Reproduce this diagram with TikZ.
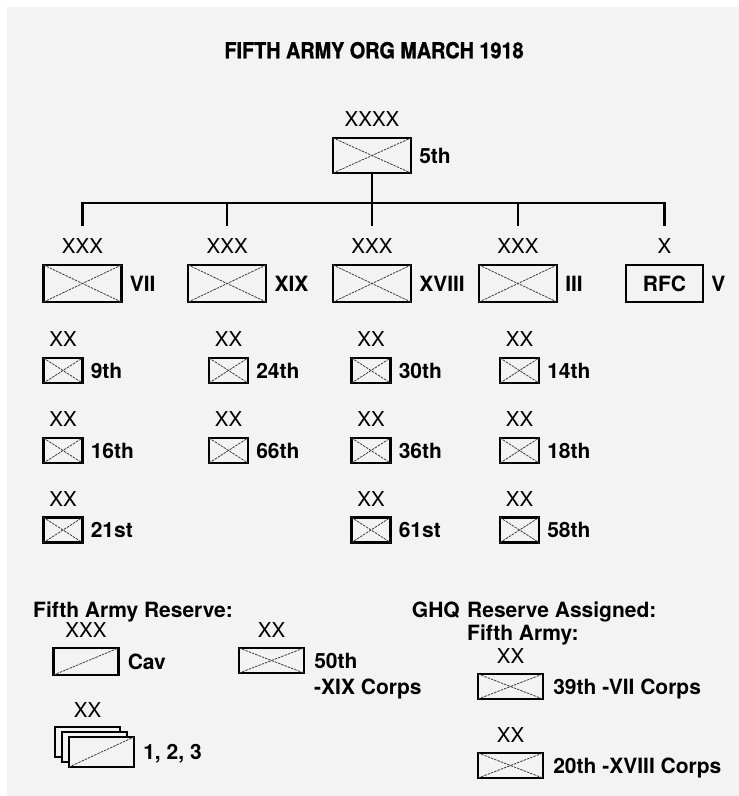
\documentclass[tikz,border=0pt]{standalone}
\usepackage{fontspec}
\setmainfont{TeX Gyre Heros}
\newfontfamily\titlefont{TeX Gyre Heros}[BoldFeatures={FakeBold=1.2, FakeStretch=0.9}]
\usetikzlibrary{positioning}

\definecolor{paper}{RGB}{243,243,243}
\definecolor{hatch}{RGB}{60,60,60}

\tikzset{
  unitbox/.style={draw=black, line width=2.2pt, fill=paper, inner sep=0pt},
  armybox/.style={unitbox, minimum width=78pt, minimum height=35pt},
  corpsbox/.style={unitbox, minimum width=78pt, minimum height=37pt},
  divbox/.style={unitbox, minimum width=39pt, minimum height=25pt},
  resbox/.style={unitbox, minimum width=65pt, minimum height=26pt},
  xlines/.style={draw=hatch, line width=0.8pt, dash pattern=on 2.5pt off 1pt},
  echelon/.style={inner sep=0pt, text height=14.5pt, text depth=0pt, font=\fontsize{20.5}{20.5}\selectfont},
  unitname/.style={inner sep=0pt, text height=15pt, text depth=0pt, font=\bfseries\fontsize{21}{21}\selectfont},
  orgline/.style={line width=2.8pt},
  thinline/.style={line width=1.7pt}
}

\begin{document}
\begin{tikzpicture}[x=1pt, y=-1pt]
    % Paper
    \useasboundingbox (0,0) rectangle (739,796);
    \fill[white] (0,0) rectangle (739,796);
    \fill[paper] (7,7) rectangle (739,796);

    % Title
    \node[inner sep=0pt, text height=15.5pt, text depth=0pt, font=\titlefont\bfseries\fontsize{22}{22}\selectfont] (title) at (374,50.5) {FIFTH ARMY ORG MARCH 1918};

    % Army
    \node[armybox] (army) at (372,155.5) {};
    \node[echelon, above=10pt of army] (army-ech) {XXXX};
    \node[unitname, right=7pt of army] (army-name) {5th};

    % Corps
    \foreach \c/\x/\t in {vii/82.5/VII, xix/227.2/XIX, xviii/372/XVIII, iii/518/III} {
      \node[corpsbox] (\c) at (\x,283.5) {};
      \node[echelon, above=10pt of \c] (\c-ech) {XXX};
      \node[unitname, right=7pt of \c] (\c-name) {\t};
    }
    \node[corpsbox, minimum width=77pt, font=\bfseries\fontsize{21}{21}\selectfont] (rfc) at (664.5,283.5) {RFC};
    \node[echelon, above=10pt of rfc] (rfc-ech) {X};
    \node[unitname, right=7pt of rfc] (rfc-name) {V};

    % Tree
    \coordinate (bar) at (372,203);
    \draw[orgline] (army.south) -- ([yshift=13.5pt]xviii-ech.north);
    \draw[orgline] ([yshift=13.5pt]vii-ech.north) |- (bar) -| ([yshift=13.5pt]rfc-ech.north);
    \foreach \c in {xix, iii}
      \draw[thinline] (\c.north |- bar) -- ([yshift=13.5pt]\c-ech.north);

    % Divisions
    \foreach \n/\x/\y in {9th/63/370.5, 16th/63/450.5, 21st/63/530,
                          24th/228.5/370.5, 66th/228.5/450.5,
                          30th/371/370.5, 36th/371/450.5, 61st/371/530,
                          14th/519.5/370.5, 18th/519.5/450.5, 58th/519.5/530} {
      \node[divbox] (d\n) at (\x,\y) {};
      \node[echelon, above=10pt of d\n] (d\n-ech) {XX};
      \node[unitname, right=7pt of d\n] (d\n-name) {\n};
    }

    % Reserves
    \node[unitname, anchor=west] (res-title) at (33,610) {Fifth Army Reserve:};
    \node[unitname, anchor=east] (ghq) at (460,610) {GHQ};
    \node[unitname, anchor=west] (ghq-title) at (467,610) {Reserve Assigned:};
    \node[unitname, anchor=west] (ghq-sub) at (467,633) {Fifth Army:};

    \node[resbox, minimum height=27pt] (cav) at (86,661.5) {};
    \node[echelon, above=9pt of cav] (cav-ech) {XXX};
    \node[unitname, right=8pt of cav] (cav-name) {Cav};

    \node[resbox, minimum height=25pt] (r50) at (271.5,660.5) {};
    \node[echelon, above=9pt of r50] (r50-ech) {XX};
    \node[unitname, right=9pt of r50] (r50-name) {50th};
    \node[unitname, anchor=west] (r50-corps) at (314,687) {-XIX Corps};

    \foreach \r/\y/\t in {r39/686.5/39th -VII Corps, r20/765.5/20th -XVIII Corps} {
      \node[resbox, minimum height=25pt] (\r) at (510.5,\y) {};
      \node[echelon, above=9pt of \r] (\r-ech) {XX};
      \node[unitname, right=9pt of \r] (\r-name) {\t};
    }

    % Stacked divisions
    \foreach \i/\x/\y in {1/87.5/742, 2/94.5/747, 3/101.5/752}
      \node[resbox, minimum height=30pt] (s\i) at (\x,\y) {};
    \node[echelon, above=8pt of s1] (s-ech) {XX};
    \node[unitname, right=8pt of s3] (s-name) {1, 2, 3};

    % Crossed boxes
    \foreach \b in {army, vii, xix, xviii, iii, d9th, d16th, d21st, d24th, d66th,
                    d30th, d36th, d61st, d14th, d18th, d58th, r50, r39, r20} {
      \draw[xlines] ([shift={(1pt,1pt)}]\b.south west) -- ([shift={(-1pt,-1pt)}]\b.north east);
      \draw[xlines] ([shift={(1pt,-1pt)}]\b.north west) -- ([shift={(-1pt,1pt)}]\b.south east);
    }
    \foreach \b in {cav, s3}
      \draw[xlines] ([shift={(1pt,1pt)}]\b.south west) -- ([shift={(-1pt,-1pt)}]\b.north east);
  \end{tikzpicture}
\end{document}
